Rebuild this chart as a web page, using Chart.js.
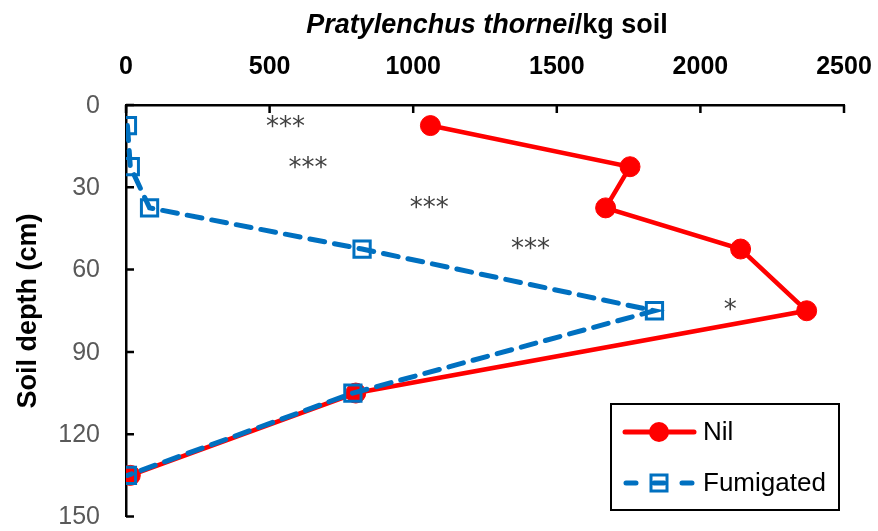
<!DOCTYPE html>
<html>
<head>
<meta charset="utf-8">
<script src="https://cdn.jsdelivr.net/npm/chart.js@4"></script>
<style>
  body { margin: 0; background: #fff; }
  canvas { display: block; }
</style>
</head>
<body>
<canvas id="depthChart" width="878" height="531"></canvas>
<script>
// dubina uzorka (cm) i broj nematoda po kg zemljista
const depths = [7.5, 22.5, 37.5, 52.5, 75, 105, 135];
const nilCounts = [1060, 1755, 1670, 2140, 2370, 800, 15];
const fumigatedCounts = [5, 15, 82, 822, 1840, 790, 5];

// oznake znacajnosti
const starLabels = ['***', '***', '***', '***', '*'];
const starX = [555, 634, 1056, 1408, 2104];
const starY = [6.5, 21.5, 36, 51, 73.5];

const xTickValues = [0, 500, 1000, 1500, 2000, 2500];
const yTickValues = [0, 30, 60, 90, 120, 150];

const seriesNames = ['Nil', 'Fumigated'];
const xTitleItalic = 'Pratylenchus thornei';
const xTitleRest = '/kg soil';
const yTitle = 'Soil depth (cm)';

const RED = '#ff0000';
const BLUE = '#0070c0';
const FONT = '"Liberation Sans", Arial, sans-serif';

function toPoints(xs) {
    return xs.map((x, i) => ({ x: x, y: depths[i] }));
}

// crtice na osama okrenute ka unutra + brojevi na osama
const axisDecor = {
    id: 'axisDecor',
    afterDatasetsDraw(chart) {
        const ctx = chart.ctx;
        const a = chart.chartArea;
        const xs = chart.scales.x, ys = chart.scales.y;
        ctx.save();
        ctx.strokeStyle = '#000';
        ctx.lineWidth = 2.5;
        ctx.beginPath();
        xTickValues.forEach(v => {
            const px = xs.getPixelForValue(v);
            ctx.moveTo(px, a.top);
            ctx.lineTo(px, a.top + 8);
        });
        yTickValues.forEach(v => {
            const py = ys.getPixelForValue(v);
            ctx.moveTo(a.left, py);
            ctx.lineTo(a.left + 8, py);
        });
        ctx.stroke();

        ctx.textBaseline = 'middle';
        ctx.textAlign = 'center';
        ctx.fillStyle = '#000';
        ctx.font = 'bold 25px ' + FONT;
        xTickValues.forEach(v => {
            ctx.fillText(String(v), xs.getPixelForValue(v), 67);
        });
        ctx.textAlign = 'right';
        ctx.fillStyle = '#595959';
        ctx.font = '25px ' + FONT;
        yTickValues.forEach(v => {
            ctx.fillText(String(v), 100, ys.getPixelForValue(v) + 1);
        });
        ctx.restore();
    }
};

// naslovi osa (delimicno kurziv)
const axisTitles = {
    id: 'axisTitles',
    afterDraw(chart) {
        const ctx = chart.ctx;
        ctx.save();
        ctx.fillStyle = '#000';
        ctx.textBaseline = 'middle';
        const f1 = 'italic bold 27px ' + FONT;
        const f2 = 'bold 27px ' + FONT;
        ctx.font = f1;
        const w1 = ctx.measureText(xTitleItalic).width;
        ctx.font = f2;
        const w2 = ctx.measureText(xTitleRest).width;
        const x = 487 - (w1 + w2) / 2;
        ctx.textAlign = 'left';
        ctx.font = f1;
        ctx.fillText(xTitleItalic, x, 26);
        ctx.font = f2;
        ctx.fillText(xTitleRest, x + w1, 26);

        ctx.translate(29, 311);
        ctx.rotate(-Math.PI / 2);
        ctx.textAlign = 'center';
        ctx.font = 'bold 27px ' + FONT;
        ctx.fillText(yTitle, 0, 0);
        ctx.restore();
    }
};

// zvezdice preko grafikona
const stars = {
    id: 'stars',
    afterDatasetsDraw(chart) {
        const ctx = chart.ctx;
        const xs = chart.scales.x, ys = chart.scales.y;
        ctx.save();
        ctx.fillStyle = '#404040';
        ctx.font = '26px "DejaVu Sans", sans-serif';
        ctx.textAlign = 'center';
        ctx.textBaseline = 'middle';
        starLabels.forEach((s, i) => {
            ctx.fillText(s, xs.getPixelForValue(starX[i]), ys.getPixelForValue(starY[i]) + 5);
        });
        ctx.restore();
    }
};

// legenda u okviru
const boxLegend = {
    id: 'boxLegend',
    afterDraw(chart) {
        const ctx = chart.ctx;
        ctx.save();
        ctx.strokeStyle = '#000';
        ctx.lineWidth = 2;
        ctx.strokeRect(611, 404, 228, 106);
        ctx.lineCap = 'round';

        // Nil
        ctx.strokeStyle = RED;
        ctx.lineWidth = 5;
        ctx.beginPath();
        ctx.moveTo(625, 432);
        ctx.lineTo(694, 432);
        ctx.stroke();
        ctx.fillStyle = RED;
        ctx.beginPath();
        ctx.arc(659, 432, 10, 0, Math.PI * 2);
        ctx.fill();

        // Fumigated
        ctx.strokeStyle = BLUE;
        ctx.beginPath();
        ctx.moveTo(626, 483);
        ctx.lineTo(636, 483);
        ctx.moveTo(682, 483);
        ctx.lineTo(692, 483);
        ctx.moveTo(654, 483);
        ctx.lineTo(664, 483);
        ctx.stroke();
        ctx.lineWidth = 3;
        ctx.strokeRect(651, 475, 16, 16);

        ctx.fillStyle = '#000';
        ctx.font = '26px ' + FONT;
        ctx.textAlign = 'left';
        ctx.textBaseline = 'middle';
        ctx.fillText(seriesNames[0], 703, 433);
        ctx.fillText(seriesNames[1], 703, 484);
        ctx.restore();
    }
};

new Chart(document.getElementById('depthChart').getContext('2d'), {
    type: 'scatter',
    data: {
        datasets: [{
            label: seriesNames[0],
            data: toPoints(nilCounts),
            showLine: true,
            borderColor: RED,
            backgroundColor: RED,
            borderWidth: 4.5,
            pointRadius: 10,
            pointBorderWidth: 1,
            pointBackgroundColor: RED,
            order: 2
        },
        {
            label: seriesNames[1],
            data: toPoints(fumigatedCounts),
            showLine: true,
            borderColor: BLUE,
            borderWidth: 5,
            borderDash: [15, 10],
            borderCapStyle: 'round',
            pointStyle: 'rect',
            pointRadius: 11.5,
            pointBorderWidth: 3,
            pointBackgroundColor: 'transparent',
            pointBorderColor: BLUE,
            order: 1
        }]
    },
    options: {
        responsive: false,
        animation: false,
        layout: { padding: { left: 0, top: 0, right: 34, bottom: 11 } },
        plugins: {
            legend: { display: false },
            tooltip: { enabled: false },
            title: { display: false }
        },
        scales: {
            x: {
                type: 'linear',
                position: 'top',
                min: 0,
                max: 2500,
                afterBuildTicks: s => { s.ticks = xTickValues.map(v => ({ value: v })); },
                afterFit: s => { s.height = 105; },
                grid: { display: true, drawOnChartArea: false, drawTicks: false },
                border: { display: true, color: '#000', width: 2.5 },
                ticks: { display: false }
            },
            y: {
                type: 'linear',
                reverse: true,
                min: 0,
                max: 150,
                afterBuildTicks: s => { s.ticks = yTickValues.map(v => ({ value: v })); },
                afterFit: s => { s.width = 126; },
                grid: { display: true, drawOnChartArea: false, drawTicks: false },
                border: { display: true, color: '#000', width: 2.5 },
                ticks: { display: false }
            }
        }
    },
    plugins: [axisDecor, axisTitles, stars, boxLegend]
});
</script>
</body>
</html>
